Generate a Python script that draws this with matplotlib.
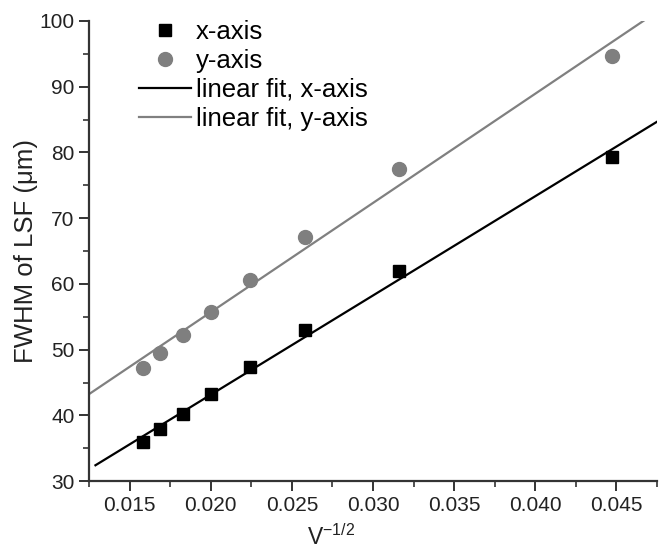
import numpy as np
import matplotlib.pyplot as plt
from matplotlib.ticker import MultipleLocator

plt.rcParams['font.family'] = ['Liberation Sans', 'DejaVu Sans']
plt.rcParams['mathtext.fontset'] = 'custom'
plt.rcParams['mathtext.rm'] = 'Liberation Sans'

# V^-1/2 values and measured FWHM (um)
v_inv_sqrt = [0.0158, 0.0169, 0.0183, 0.0200, 0.0224, 0.0258, 0.0316, 0.0447]
fwhm_x = [35.9, 37.9, 40.2, 43.3, 47.3, 53.0, 61.9, 79.3]
fwhm_y = [47.2, 49.5, 52.3, 55.7, 60.6, 67.2, 77.5, 94.6]
fit_range_x = [0.0129, 0.0475]
fit_range_y = [0.0125, 0.0475]

fig = plt.figure(figsize=(6.59, 5.5), dpi=100)
ax = fig.add_axes([0.135, 0.125, 0.862, 0.837])

ax.plot(v_inv_sqrt, fwhm_x, 's', color='black', markersize=9, label='x-axis', zorder=3)
ax.plot(v_inv_sqrt, fwhm_y, 'o', color='#7f7f7f', markersize=10, label='y-axis', zorder=3)

px = np.polyfit(v_inv_sqrt, fwhm_x, 1)
py = np.polyfit(v_inv_sqrt, fwhm_y, 1)
ax.plot(fit_range_x, np.polyval(px, fit_range_x), color='black', lw=1.6, label='linear fit, x-axis')
ax.plot(fit_range_y, np.polyval(py, fit_range_y), color='#808080', lw=1.6, label='linear fit, y-axis')

ax.set_xlim(0.0125, 0.0475)
ax.set_ylim(30, 100)
ax.xaxis.set_major_locator(MultipleLocator(0.005))
ax.xaxis.set_minor_locator(MultipleLocator(0.0025))
ax.yaxis.set_major_locator(MultipleLocator(10))
ax.yaxis.set_minor_locator(MultipleLocator(5))
ax.xaxis.set_major_formatter(lambda v, p: f'{v:.3f}')

for s in ['top', 'right']:
    ax.spines[s].set_visible(False)
for s in ['left', 'bottom']:
    ax.spines[s].set_linewidth(1.6)
    ax.spines[s].set_color('#333333')
ax.tick_params(which='major', length=7, width=1.4, labelsize=15)
ax.tick_params(which='minor', length=4, width=1.2)
ax.tick_params(colors='#333333', which='both', labelcolor='#222222')

ax.set_xlabel('V$^{\\mathregular{-1/2}}$', fontsize=16.5, color='#222222')
ax.xaxis.set_label_coords(0.426, -0.094)
ax.set_ylabel('FWHM of LSF (\u03bcm)', fontsize=18.5, color='#222222')
ax.yaxis.set_label_coords(-0.09, 0.5)

ax.legend(loc='upper left', bbox_to_anchor=(0.048, 1.053), frameon=False, fontsize=18.5,
          handlelength=2.0, handletextpad=0.2, labelspacing=0.2)

fig.savefig('out.png', dpi=100)
